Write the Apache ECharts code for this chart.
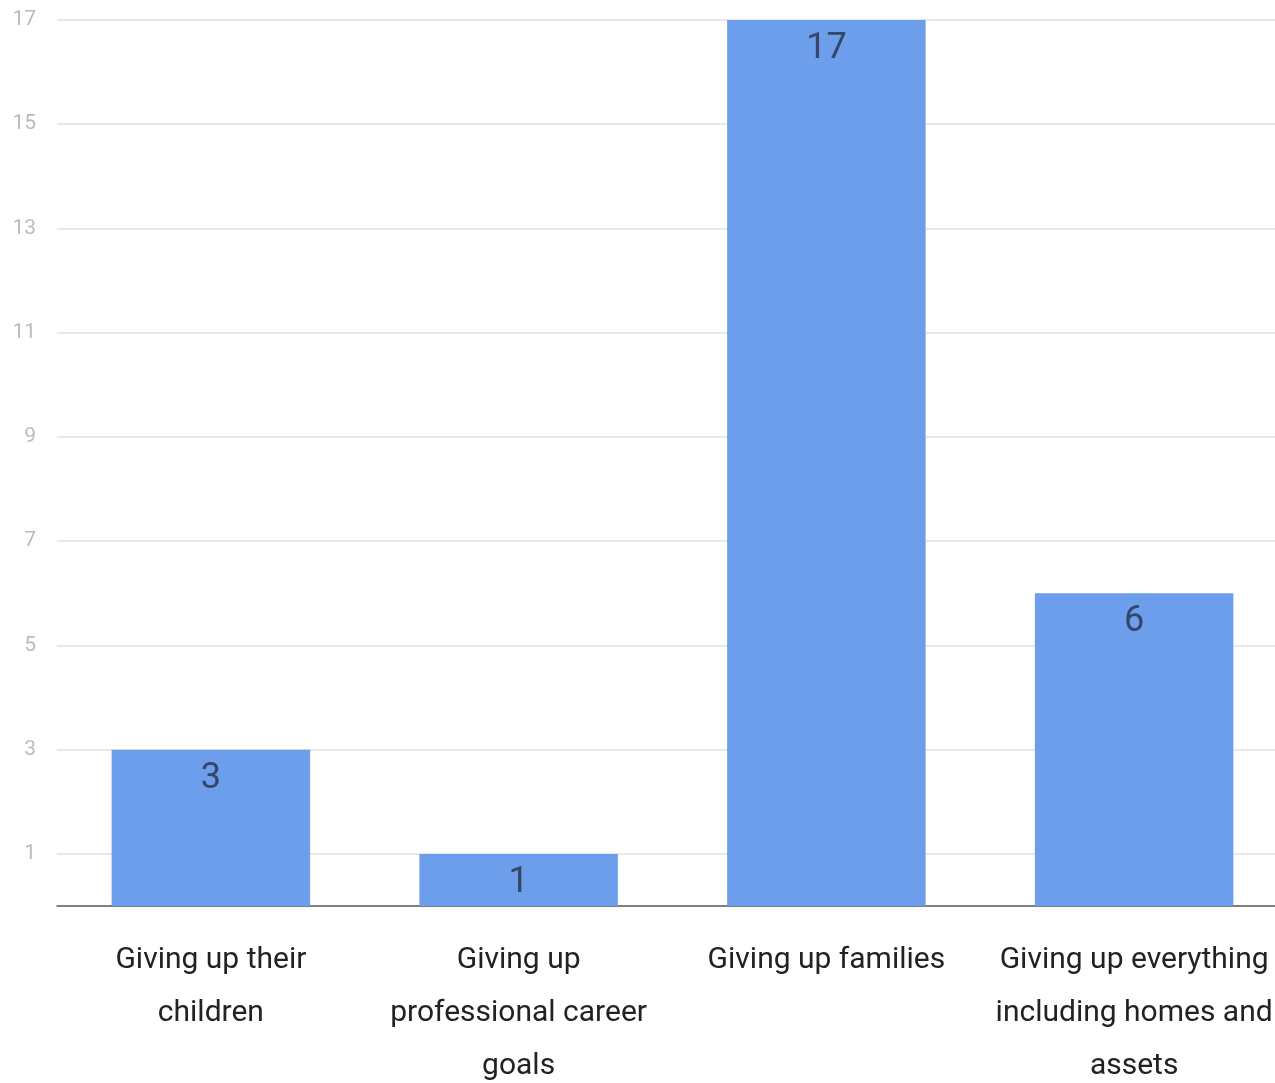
<!DOCTYPE html>
<html>
<head>
<meta charset="utf-8">
<script src="https://cdn.jsdelivr.net/npm/echarts@6/dist/echarts.min.js"></script>
<style>
html,body{margin:0;padding:0;background:#fff;}
#chart{width:1275px;height:1083px;}
</style>
</head>
<body>
<div id="chart"></div>
<script>
const categories = [
  "Giving up their\nchildren",
  "Giving up\nprofessional career\ngoals",
  "Giving up families",
  "Giving up everything\nincluding homes and\nassets"
];
const values = [3, 1, 17, 6];
const yTicks = [1, 3, 5, 7, 9, 11, 13, 15, 17];

const font = 'Roboto, "Liberation Sans", sans-serif';

const chart = echarts.init(document.getElementById('chart'));
chart.setOption({
  animation: false,
  grid: { left: 57, right: -13, top: 20, bottom: 177, containLabel: false, outerBoundsMode: 'none' },
  xAxis: {
    type: 'category',
    data: categories,
    axisLine: { show: true, lineStyle: { color: '#555', width: 1.5 } },
    axisTick: { show: false },
    axisLabel: {
      interval: 0,
      margin: 28,
      color: '#222',
      fontSize: 30,
      lineHeight: 53,
      fontFamily: font
    }
  },
  yAxis: {
    type: 'value',
    min: 0,
    max: 17,
    axisLine: { show: false },
    axisTick: { show: false, customValues: yTicks },
    axisLabel: {
      customValues: yTicks,
      color: '#bbb',
      fontSize: 21,
      margin: 21,
      fontFamily: font
    },
    splitLine: { show: true, lineStyle: { color: '#e0e0e0', width: 1.5 } }
  },
  series: [{
    type: 'bar',
    data: values,
    barWidth: '64.5%',
    itemStyle: { color: '#6d9eeb' },
    label: {
      show: true,
      position: 'insideTop',
      distance: 11,
      color: '#34466a',
      fontSize: 36,
      fontFamily: font
    }
  }]
});
</script>
</body>
</html>
